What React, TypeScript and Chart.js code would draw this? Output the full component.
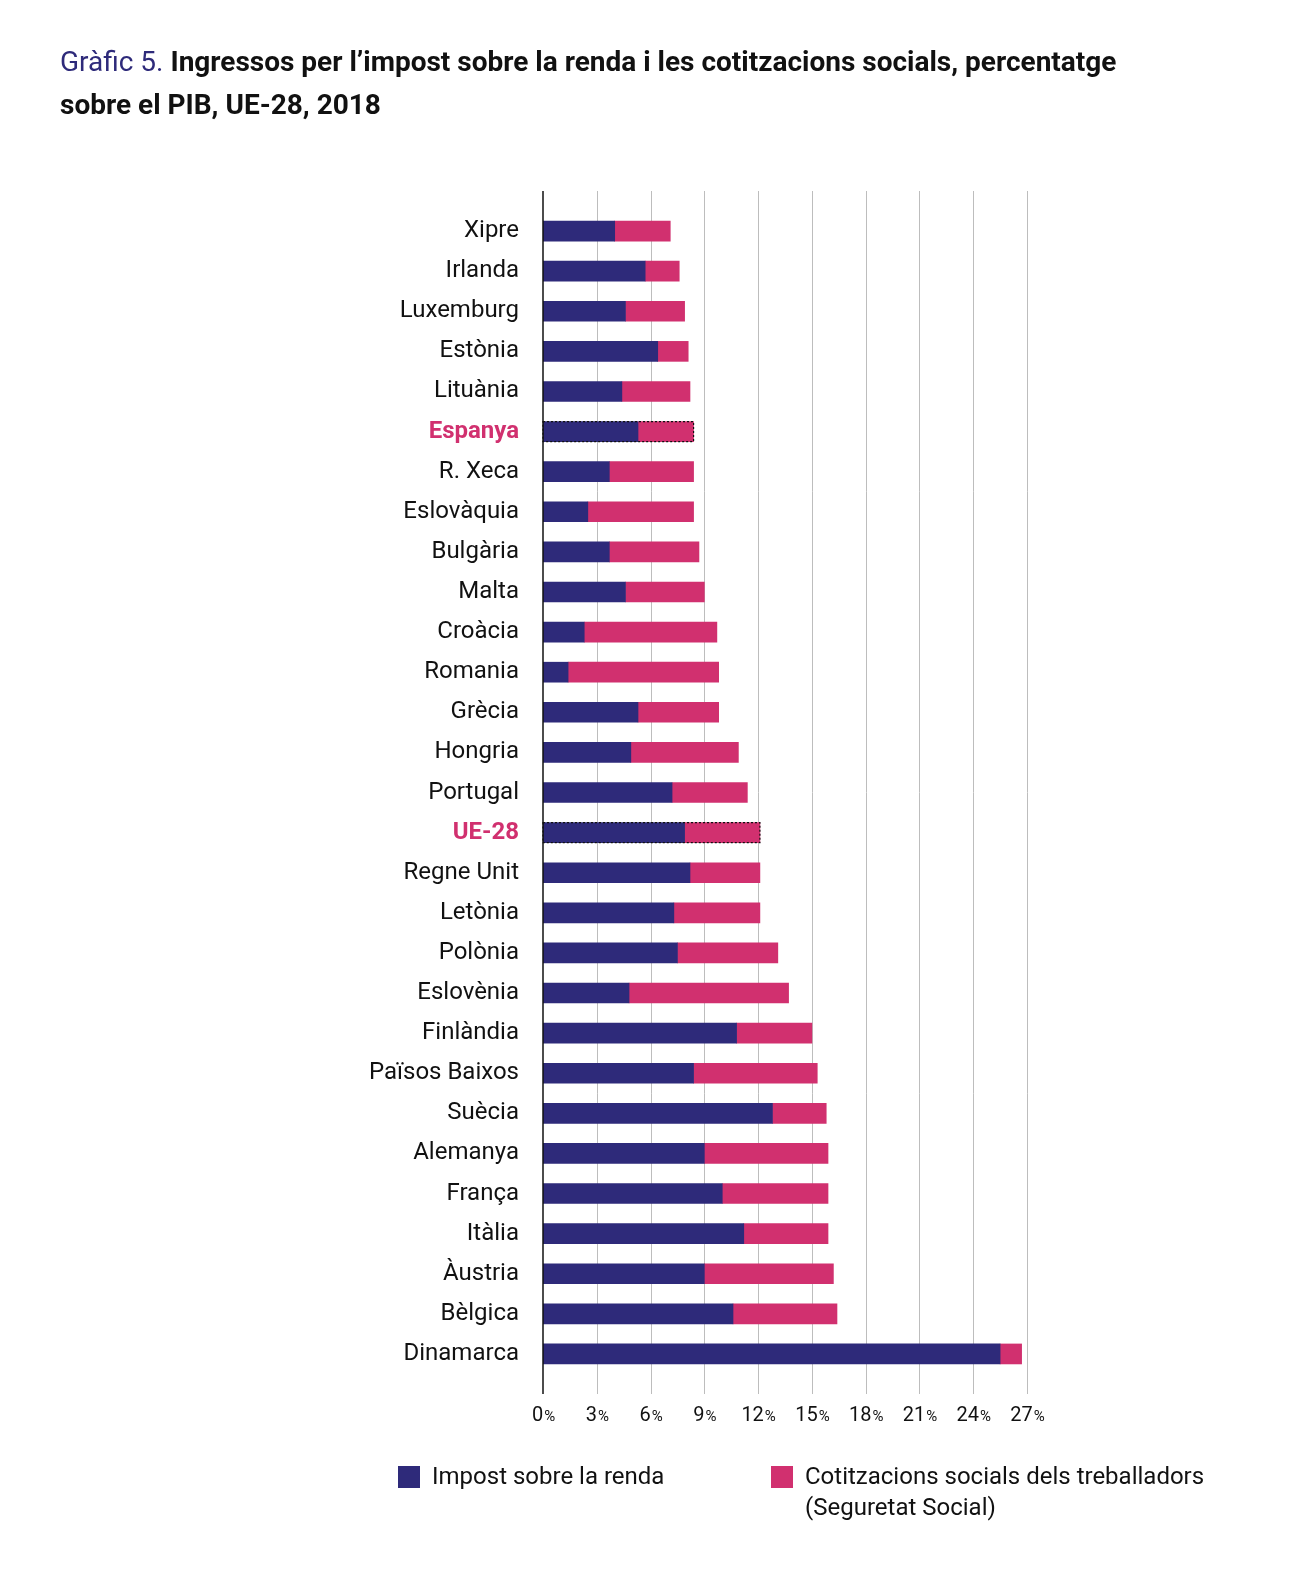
import React, { useEffect, useRef } from "react";
import { Chart, registerables } from "chart.js";
Chart.register(...registerables);

const categories = ["Xipre","Irlanda","Luxemburg","Estònia","Lituània","Espanya","R. Xeca","Eslovàquia","Bulgària","Malta","Croàcia","Romania","Grècia","Hongria","Portugal","UE-28","Regne Unit","Letònia","Polònia","Eslovènia","Finlàndia","Països Baixos","Suècia","Alemanya","França","Itàlia","Àustria","Bèlgica","Dinamarca"];
const impostRenda = [4.0,5.7,4.6,6.4,4.4,5.3,3.7,2.5,3.7,4.6,2.3,1.4,5.3,4.9,7.2,7.9,8.2,7.3,7.5,4.8,10.8,8.4,12.8,9.0,10.0,11.2,9.0,10.6,25.5];
const cotitzacions = [3.1,1.9,3.3,1.7,3.8,3.1,4.7,5.9,5.0,4.4,7.4,8.4,4.5,6.0,4.2,4.2,3.9,4.8,5.6,8.9,4.2,6.9,3.0,6.9,5.9,4.7,7.2,5.8,1.2];
const tickValues = [0,3,6,9,12,15,18,21,24,27];
const highlighted = ["Espanya","UE-28"];

const BLUE = "#2e2a7a";
const PINK = "#d1306f";
const FONT = "Roboto, 'Liberation Sans', sans-serif";

export default function App() {
  const ref = useRef<HTMLCanvasElement>(null);
  useEffect(() => {
    const overlay = {
      id: "overlay",
      beforeDatasetsDraw(chart: any) {
        const { ctx } = chart;
        const x = chart.scales.x;
        const top = chart.chartArea.top - 20, bottom = chart.chartArea.bottom + 20;
        ctx.save();
        ctx.strokeStyle = "#bdbdbd";
        ctx.lineWidth = 1;
        tickValues.slice(1).forEach((v) => {
          const px = Math.round(x.getPixelForValue(v)) + 0.5;
          ctx.beginPath(); ctx.moveTo(px, top); ctx.lineTo(px, bottom); ctx.stroke();
        });
        ctx.restore();
      },
      afterDatasetsDraw(chart: any) {
        const { ctx } = chart;
        const x = chart.scales.x, y = chart.scales.y;
        const top = chart.chartArea.top - 20, bottom = chart.chartArea.bottom + 20;
        ctx.save();
        ctx.strokeStyle = "#111";
        ctx.lineWidth = 1.5;
        const x0 = x.getPixelForValue(0);
        ctx.beginPath(); ctx.moveTo(x0, top); ctx.lineTo(x0, bottom); ctx.stroke();
        ctx.setLineDash([2, 2]);
        ctx.lineWidth = 1.2;
        highlighted.forEach((name) => {
          const i = categories.indexOf(name);
          const cy = y.getPixelForValue(i);
          const x1 = x.getPixelForValue(impostRenda[i] + cotitzacions[i]);
          ctx.strokeRect(x0, cy - 10, x1 - x0, 20);
        });
        ctx.setLineDash([]);
        ctx.fillStyle = "#111";
        ctx.textBaseline = "alphabetic";
        tickValues.forEach((v) => {
          const px = x.getPixelForValue(v);
          const a = String(v);
          ctx.font = `20px ${FONT}`;
          const wa = ctx.measureText(a).width;
          ctx.font = `15px ${FONT}`;
          const wb = ctx.measureText("%").width;
          const start = px - (wa + wb) / 2;
          ctx.font = `20px ${FONT}`;
          ctx.fillText(a, start, bottom + 27);
          ctx.font = `15px ${FONT}`;
          ctx.fillText("%", start + wa + 1, bottom + 27);
        });
        ctx.restore();
      },
    };
    const chart = new Chart(ref.current!, {
      type: "bar",
      data: {
        labels: categories,
        datasets: [
          { label: "Impost sobre la renda", data: impostRenda, backgroundColor: BLUE, barThickness: 20 },
          { label: "Cotitzacions socials", data: cotitzacions, backgroundColor: PINK, barThickness: 20 },
        ],
      },
      options: {
        indexAxis: "y",
        animation: false,
        responsive: false,
        layout: { padding: { top: 211, bottom: 204, right: 277, left: 4 } },
        plugins: { legend: { display: false }, tooltip: { enabled: false } },
        scales: {
          x: { stacked: true, min: 0, max: 27, display: false },
          y: {
            stacked: true,
            grid: { display: false },
            border: { display: false },
            afterFit: (s: any) => { s.width = 539; },
            ticks: {
              padding: 16,
              font: (c: any) => ({ family: FONT, size: 24, weight: highlighted.includes(categories[c.index]) ? "bold" : "normal" }),
              color: (c: any) => (highlighted.includes(categories[c.index]) ? PINK : "#111"),
            },
          },
        },
      },
      plugins: [overlay],
    });
    return () => chart.destroy();
  }, []);

  return (
    <div style={{ position: "absolute", left: 0, top: 0, width: 1304, height: 1578, background: "#fff", fontFamily: FONT, color: "#111" }}>
      <canvas ref={ref} width={1304} height={1578} style={{ position: "absolute", left: 0, top: 0 }} />
      <div style={{ position: "absolute", left: 60, top: 40, width: 1240, fontSize: 28, lineHeight: "43px", fontWeight: "bold", whiteSpace: "nowrap" }}>
        <span style={{ color: BLUE, fontWeight: "normal" }}>Gràfic 5.</span> Ingressos per l’impost sobre la renda i les cotitzacions socials, percentatge<br />sobre el PIB, UE-28, 2018
      </div>
      <div style={{ position: "absolute", left: 398, top: 1466, width: 22, height: 22, background: BLUE }} />
      <div style={{ position: "absolute", left: 432, top: 1461, fontSize: 24, lineHeight: "31px" }}>Impost sobre la renda</div>
      <div style={{ position: "absolute", left: 771, top: 1466, width: 22, height: 22, background: PINK }} />
      <div style={{ position: "absolute", left: 805, top: 1461, fontSize: 24, lineHeight: "31px" }}>
        Cotitzacions socials dels treballadors<br />(Seguretat Social)
      </div>
    </div>
  );
}
